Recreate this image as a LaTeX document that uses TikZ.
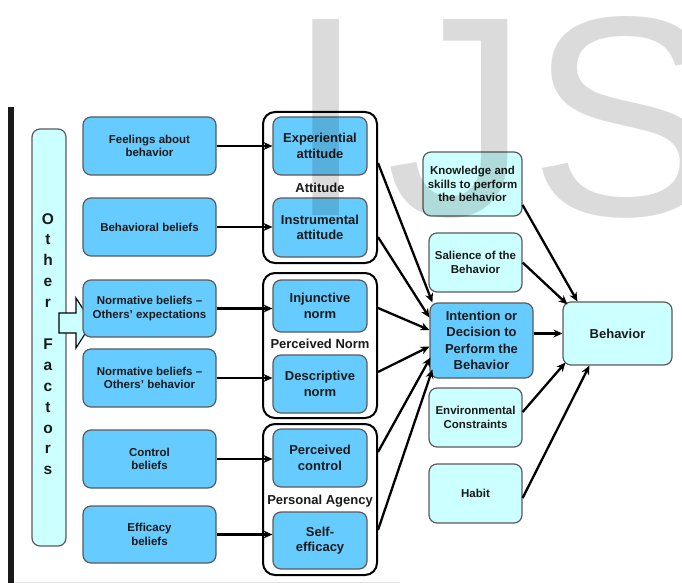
\documentclass[tikz,border=0pt]{standalone}
\usepackage{fontspec}
\setmainfont{Liberation Sans}
\usetikzlibrary{arrows.meta}
\definecolor{myblue}{HTML}{66CCFF}
\definecolor{mycyan}{HTML}{CCFFFF}
\definecolor{edgegray}{HTML}{5A5A5A}
\definecolor{ink}{HTML}{1A1A1A}
\tikzset{
  box/.style={draw=edgegray, line width=1.2pt, rounded corners=8pt, align=center, inner sep=0pt, text=ink},
  bluebox/.style={box, fill=myblue},
  cyanbox/.style={box, fill=mycyan},
  small/.style={font=\fontsize{11.5}{13.5}\selectfont\bfseries},
  big/.style={font=\fontsize{13}{15.5}\selectfont\bfseries},
  grouplabel/.style={font=\fontsize{13}{15.5}\selectfont\bfseries, text=ink, inner sep=0pt},
  groupbox/.style={draw=black, line width=2pt, rounded corners=12pt, fill=white, inner sep=0pt},
  conn/.style={draw=black, line width=2.3pt, -{Stealth[length=9pt,width=8pt]}},
  wmark/.style={anchor=base west, inner sep=0pt, font=\fontsize{285}{285}\selectfont, text=black, text opacity=0.14},
}
\begin{document}
\begin{tikzpicture}[x=1pt,y=-1pt]
\useasboundingbox[fill=white] (0,0) rectangle (682,583);
% left bar and bottom edge
\fill[ink] (8,107) rectangle (14,583);
\draw[black!10, line width=1pt] (14,582) -- (400,582);

% Other factors
\node[cyanbox, minimum width=34pt, minimum height=417pt] (other) at (49,337.5) {};
\foreach \l [count=\i] in {O,t,h,e,r,{},F,a,c,t,o,r,s}
  \node[anchor=base, inner sep=0pt, text=ink, font=\fontsize{15.5}{15.5}\selectfont\bfseries] (of\i) at (48,{224+(\i-1)*20.9}) {\l};

% hollow arrow
\draw[black, line width=1.1pt, fill=mycyan] (59,313) -- (76,313) -- (76,298) -- (92,323) -- (76,348) -- (76,333) -- (59,333) -- cycle;

% left boxes
\node[bluebox, small, minimum width=133pt, minimum height=58pt] (fb) at (149.5,146) {Feelings about\\behavior};
\node[bluebox, small, minimum width=133pt, minimum height=58pt] (bb) at (149.5,227) {Behavioral beliefs};
\node[bluebox, small, minimum width=133pt, minimum height=57pt] (nbe) at (149.5,308.5) {Normative beliefs –\\Others' expectations};
\node[bluebox, small, minimum width=133pt, minimum height=58pt] (nbb) at (149.5,378) {Normative beliefs –\\Others' behavior};
\node[bluebox, small, minimum width=133pt, minimum height=58pt] (cb) at (149.5,459) {Control\\beliefs};
\node[bluebox, small, minimum width=133pt, minimum height=57pt] (eb) at (149.5,534.5) {Efficacy\\beliefs};

% groups
\node[groupbox, minimum width=114pt, minimum height=151pt] (gA) at (320,187.5) {};
\node[groupbox, minimum width=114pt, minimum height=145pt] (gN) at (320,345.5) {};
\node[groupbox, minimum width=114pt, minimum height=151pt] (gP) at (320,499.5) {};
\node[grouplabel] (lA) at (320,188) {Attitude};
\node[grouplabel] (lN) at (320,344) {Perceived Norm};
\node[grouplabel] (lP) at (320,501) {Personal Agency};

% inner boxes
\node[bluebox, big, minimum width=94pt, minimum height=58pt] (exp) at (320,146) {Experiential\\attitude};
\node[bluebox, big, minimum width=94pt, minimum height=59pt] (ins) at (320,227.5) {Instrumental\\attitude};
\node[bluebox, big, minimum width=94pt, minimum height=52pt] (inj) at (320,306) {Injunctive\\norm};
\node[bluebox, big, minimum width=94pt, minimum height=58pt] (des) at (320,384) {Descriptive\\norm};
\node[bluebox, big, minimum width=94pt, minimum height=58pt] (pc) at (320,458) {Perceived\\control};
\node[bluebox, big, minimum width=94pt, minimum height=57pt] (se) at (320,540.5) {Self-\\efficacy};

% right boxes
\node[cyanbox, small, minimum width=99pt, minimum height=64pt] (kn) at (472.5,184) {Knowledge and\\skills to perform\\the behavior};
\node[cyanbox, small, minimum width=93pt, minimum height=59pt] (sal) at (475.5,262.5) {Salience of the\\Behavior};
\node[bluebox, font=\fontsize{13}{16.5}\selectfont\bfseries, minimum width=103pt, minimum height=75pt] (int) at (481.5,340.5) {Intention or\\Decision to\\Perform the\\Behavior};
\node[cyanbox, small, minimum width=93pt, minimum height=59pt] (env) at (475.5,417.5) {Environmental\\Constraints};
\node[cyanbox, small, minimum width=93pt, minimum height=59pt] (hab) at (475.5,493.5) {Habit};
\node[cyanbox, font=\fontsize{13}{15.5}\selectfont\bfseries, minimum width=109pt, minimum height=63pt] (beh) at (617.5,333.5) {Behavior};

% left to inner
\draw[conn] (fb.east) -- (fb.east -| exp.west);
\draw[conn] (bb.east) -- (bb.east -| ins.west);
\draw[conn] (nbe.east) -- (nbe.east -| inj.west);
\draw[conn] (nbb.east) -- (nbb.east -| des.west);
\draw[conn] (cb.east) -- (cb.east -| pc.west);
\draw[conn] (eb.east) -- (eb.east -| se.west);

% groups to intention
\draw[conn] ([yshift=-17pt]exp.east -| gA.east) -- ([xshift=3pt]int.north west);
\draw[conn] ([yshift=-9.5pt]ins.east -| gA.east) -- ([yshift=23pt]int.west);
\draw[conn] ([yshift=-2pt]inj.east -| gN.east) -- ([yshift=10.5pt]int.west);
\draw[conn] ([yshift=12pt]des.east -| gN.east) -- ([yshift=-6pt]int.west);
\draw[conn] ([yshift=6pt]pc.east -| gP.east) -- ([xshift=1pt,yshift=-17pt]int.west);
\draw[conn] ([yshift=10.5pt]se.east -| gP.east) -- ([xshift=3pt,yshift=-29pt]int.west);

% to behavior
\draw[conn] (beh.west -| int.east) -- (beh.west);
\draw[conn] ([yshift=-21pt]kn.east) -- ([xshift=15pt]beh.north west);
\draw[conn] (sal.east) -- ([xshift=5pt,yshift=-3pt]beh.north west);
\draw[conn] ([yshift=5.5pt]env.east) -- ([xshift=3pt,yshift=3pt]beh.south west);
\draw[conn] ([yshift=-4.5pt]hab.east) -- ([xshift=27pt]beh.south west);

% watermark
\node[wmark] (wmI) at (286,215) {I};
\node[wmark] (wmJ) at (386,215) {J};
\node[wmark] (wmS) at (529,215) {S};
\end{tikzpicture}
\end{document}
